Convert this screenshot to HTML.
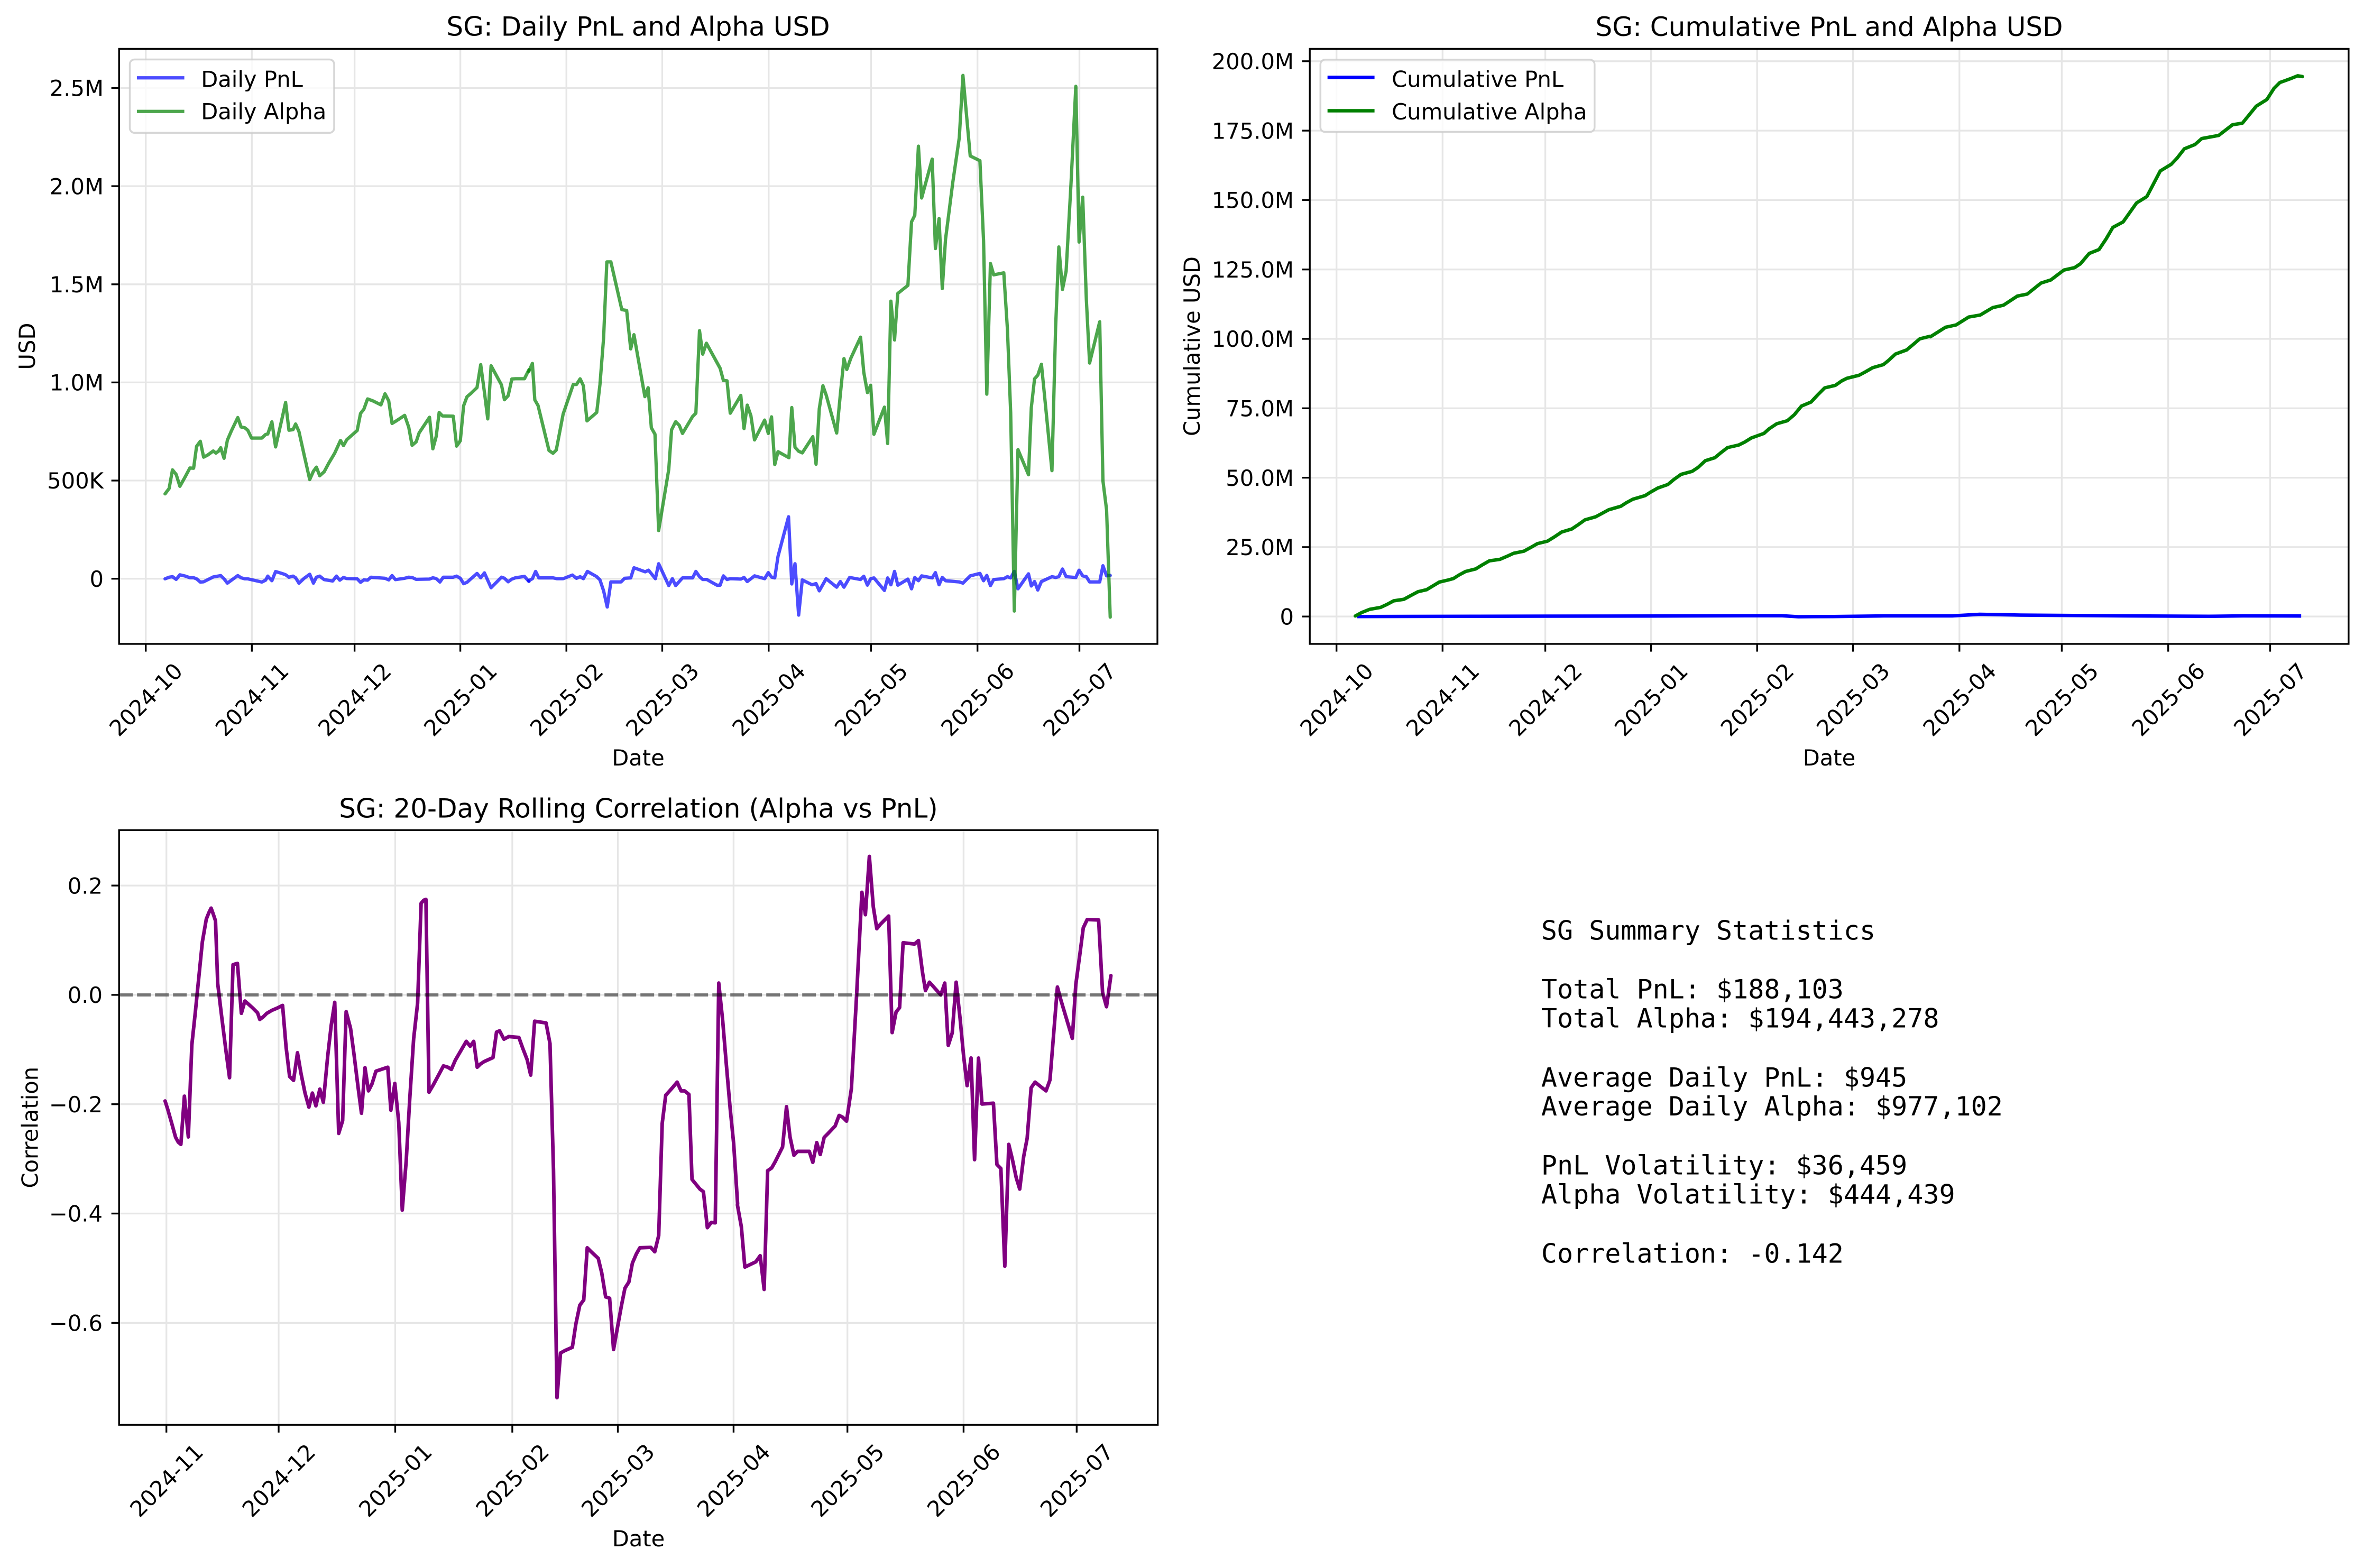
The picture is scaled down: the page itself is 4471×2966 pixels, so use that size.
<!DOCTYPE html>
<html><head><meta charset="utf-8"><style>
html,body{margin:0;padding:0;background:#fff;}
svg{display:block;}
text{font-family:"DejaVu Sans","Liberation Sans",sans-serif;fill:#000;}
.t{font-size:41.67px;}
.ti{font-size:50px;}
.mono{font-family:"DejaVu Sans Mono","Liberation Mono",monospace;font-size:50px;}
.g{stroke:#e6e6e6;stroke-width:3.3;fill:none;}
.tk{stroke:#000;stroke-width:3.33;}
.sp{fill:none;stroke:#000;stroke-width:3.33;}
</style></head><body>
<svg width="4471" height="2966" viewBox="0 0 4471 2966" xmlns="http://www.w3.org/2000/svg">
<rect width="4471" height="2966" fill="#fff"/>

<!-- ================= PANEL 1 ================= -->
<g class="g">
<line x1="275.7" y1="92.4" x2="275.7" y2="1218"/><line x1="476.3" y1="92.4" x2="476.3" y2="1218"/><line x1="670.6" y1="92.4" x2="670.6" y2="1218"/><line x1="870.6" y1="92.4" x2="870.6" y2="1218"/><line x1="1071.2" y1="92.4" x2="1071.2" y2="1218"/><line x1="1252.5" y1="92.4" x2="1252.5" y2="1218"/><line x1="1453.8" y1="92.4" x2="1453.8" y2="1218"/><line x1="1647.4" y1="92.4" x2="1647.4" y2="1218"/><line x1="1848.7" y1="92.4" x2="1848.7" y2="1218"/><line x1="2041.5" y1="92.4" x2="2041.5" y2="1218"/>
<line x1="225.2" y1="1094.7" x2="2189" y2="1094.7"/><line x1="225.2" y1="909.0" x2="2189" y2="909.0"/><line x1="225.2" y1="723.4" x2="2189" y2="723.4"/><line x1="225.2" y1="537.8" x2="2189" y2="537.8"/><line x1="225.2" y1="352.1" x2="2189" y2="352.1"/><line x1="225.2" y1="166.5" x2="2189" y2="166.5"/>
</g>
<!-- Daily PnL -->
<g fill="none" stroke="#0000ff" stroke-opacity="0.7" stroke-width="6.25" stroke-linejoin="round" stroke-linecap="round">
<polyline vector-effect="non-scaling-stroke" transform="translate(0,650) scale(0.70151,0.5102)" points="445,872 456,866 465,864 475,874 485,857 500,862 512,868 522,868 530,872 540,884 549,883 575,865 595,860 604,872 613,888 641,860 650,868 660,872 668,872 706,884 716,877 722,862 733,879 743,845 760,852 770,857 779,866 790,862 797,868 806,888 820,870 835,855 845,888 853,866 862,862 874,875 897,880 907,862 916,877 926,867 935,871 963,872 972,885 981,876 991,877 1000,866 1038,870 1048,876 1057,860 1066,875 1091,870 1102,866 1111,867 1122,874 1158,873 1167,868 1176,871 1186,884 1195,866 1222,866 1231,862 1241,870 1250,890 1259,885 1286,852 1296,868 1306,850 1324,905 1352,866 1360,870 1370,883 1380,873 1390,868 1414,863 1426,882"/>
<polyline vector-effect="non-scaling-stroke" transform="translate(1000,50) scale(0.76531)" points="0,1370 9,1365 17,1347 25,1363 60,1363 70,1365 85,1365 108,1356 118,1364 127,1360 135,1365 145,1347 168,1360 176,1368 185,1395 194,1435 203,1373 228,1373 237,1364 252,1363 260,1338 288,1348 296,1344 313,1365 321,1328 346,1382 355,1365 363,1382 380,1363 405,1363 413,1347 422,1360 430,1367 440,1367 465,1381 473,1381 481,1358 490,1367 498,1365 524,1366 532,1362 540,1372 558,1358 583,1365 592,1350 600,1361 608,1363 616,1310 642,1212 650,1378 658,1328 667,1455 676,1368 700,1380 710,1377 718,1395 735,1365 761,1386 770,1372 779,1386 793,1362 820,1367 828,1359 837,1381 845,1365 853,1363 879,1394 887,1363 895,1380 904,1347 912,1381 937,1366 946,1390 954,1362 963,1370 971,1358 997,1363 1005,1350 1014,1380 1022,1362 1030,1370 1064,1373 1073,1376 1091,1358 1115,1352 1124,1370 1132,1357 1141,1382 1149,1367 1174,1365 1183,1360 1191,1363 1200,1347 1209,1390 1235,1353 1242,1383 1250,1372 1258,1393 1267,1372 1293,1360 1302,1362 1310,1360 1319,1341 1328,1360 1352,1362 1360,1344 1369,1358 1378,1360 1386,1373 1411,1373 1419,1333 1428,1358 1437,1357"/>
</g>
<!-- Daily Alpha -->
<g fill="none" stroke="#008000" stroke-opacity="0.7" stroke-width="6.25" stroke-linejoin="round" stroke-linecap="round">
<polyline vector-effect="non-scaling-stroke" transform="translate(0,650) scale(0.70151,0.5102)" points="445,557 456,537 465,468 475,485 485,529 500,492 512,461 522,462 530,381 540,362 549,421 560,413 575,398 582,406 589,399 595,386 604,425 613,358 624,323 641,274 650,309 660,312 668,321 678,350 706,350 716,337 722,335 733,290 743,383 760,280 770,218 779,321 790,319 797,298 806,326 820,413 835,504 845,473 853,458 862,490 874,475 886,444 902,407 918,359 926,378 935,356 963,322 972,259 981,243 991,205 1005,212 1027,227 1038,186 1048,212 1057,296 1070,285 1091,266 1102,310 1111,377 1122,364 1130,331 1158,273 1167,390 1176,344 1184,255 1193,268 1222,269 1231,380 1241,360 1250,230 1259,197 1270,184 1286,163 1296,78 1306,180 1315,279 1324,82 1337,115 1352,153 1360,208 1370,193 1380,131 1390,130 1414,130 1426,97"/>
<polyline vector-effect="non-scaling-stroke" transform="translate(1000,50) scale(0.76531)" points="0,853 9,833 15,923 23,937 50,1048 60,1055 68,1047 85,958 110,885 118,885 127,871 135,888 144,975 168,954 176,885 185,770 193,582 203,582 230,700 242,702 252,797 260,762 287,915 295,893 303,992 312,1008 321,1246 346,1095 353,997 363,977 372,986 380,1006 405,964 413,956 422,752 430,810 439,783 473,845 481,875 490,876 498,956 524,912 532,994 540,936 549,962 558,1022 583,973 592,1006 600,965 608,1083 616,1051 643,1066 650,942 658,1040 667,1050 676,1054 702,1014 710,1082 718,945 727,888 735,911 761,1005 770,910 779,821 786,848 796,820 820,768 828,855 837,905 845,887 853,1008 879,941 887,1031 895,679 904,775 912,660 937,640 946,483 954,467 963,296 971,424 997,328 1005,549 1014,475 1022,648 1030,526 1048,385 1064,275 1073,121 1091,320 1115,332 1124,530 1132,909 1141,586 1149,614 1174,609 1183,749 1191,955 1200,1445 1209,1046 1235,1108 1242,942 1250,871 1258,862 1267,835 1293,1098 1302,745 1310,545 1319,650 1328,605 1340,390 1352,148 1360,533 1369,422 1378,675 1386,832 1411,730 1419,1123 1428,1195 1437,1460"/>
</g>
<rect class="sp" x="225.2" y="92.4" width="1963.8" height="1125.6"/>
<g class="tk">
<line x1="210.6" y1="1094.7" x2="225.2" y2="1094.7"/><line x1="210.6" y1="909.0" x2="225.2" y2="909.0"/><line x1="210.6" y1="723.4" x2="225.2" y2="723.4"/><line x1="210.6" y1="537.8" x2="225.2" y2="537.8"/><line x1="210.6" y1="352.1" x2="225.2" y2="352.1"/><line x1="210.6" y1="166.5" x2="225.2" y2="166.5"/>
<line x1="275.7" y1="1218" x2="275.7" y2="1232.6"/><line x1="476.3" y1="1218" x2="476.3" y2="1232.6"/><line x1="670.6" y1="1218" x2="670.6" y2="1232.6"/><line x1="870.6" y1="1218" x2="870.6" y2="1232.6"/><line x1="1071.2" y1="1218" x2="1071.2" y2="1232.6"/><line x1="1252.5" y1="1218" x2="1252.5" y2="1232.6"/><line x1="1453.8" y1="1218" x2="1453.8" y2="1232.6"/><line x1="1647.4" y1="1218" x2="1647.4" y2="1232.6"/><line x1="1848.7" y1="1218" x2="1848.7" y2="1232.6"/><line x1="2041.5" y1="1218" x2="2041.5" y2="1232.6"/>
</g>
<g class="t" text-anchor="end">
<text x="196" y="1110">0</text><text x="196" y="924.2">500K</text><text x="196" y="738.6">1.0M</text><text x="196" y="553">1.5M</text><text x="196" y="367.3">2.0M</text><text x="196" y="181.7">2.5M</text>
</g>
<g class="t" text-anchor="middle">
<text transform="translate(275.7,1323) rotate(-45)" y="15">2024-10</text>
<text transform="translate(476.3,1323) rotate(-45)" y="15">2024-11</text>
<text transform="translate(670.6,1323) rotate(-45)" y="15">2024-12</text>
<text transform="translate(870.6,1323) rotate(-45)" y="15">2025-01</text>
<text transform="translate(1071.2,1323) rotate(-45)" y="15">2025-02</text>
<text transform="translate(1252.5,1323) rotate(-45)" y="15">2025-03</text>
<text transform="translate(1453.8,1323) rotate(-45)" y="15">2025-04</text>
<text transform="translate(1647.4,1323) rotate(-45)" y="15">2025-05</text>
<text transform="translate(1848.7,1323) rotate(-45)" y="15">2025-06</text>
<text transform="translate(2041.5,1323) rotate(-45)" y="15">2025-07</text>
<text x="1207" y="1448">Date</text>
<text transform="translate(66,655) rotate(-90)">USD</text>
</g>
<text class="ti" x="1207" y="67.5" text-anchor="middle">SG: Daily PnL and Alpha USD</text>
<!-- legend 1 -->
<rect x="245.5" y="112.5" width="386.5" height="138.8" rx="9" fill="#fff" fill-opacity="0.8" stroke="#cccccc" stroke-opacity="0.8" stroke-width="3.5"/>
<line x1="258.9" y1="147.3" x2="348.6" y2="147.3" stroke="#0000ff" stroke-opacity="0.7" stroke-width="6.25"/>
<line x1="258.9" y1="210.7" x2="348.6" y2="210.7" stroke="#008000" stroke-opacity="0.7" stroke-width="6.25"/>
<text class="t" x="380.2" y="164.3">Daily PnL</text>
<text class="t" x="380.2" y="225.4">Daily Alpha</text>

<!-- ================= PANEL 2 ================= -->
<g class="g">
<line x1="2527.7" y1="92.4" x2="2527.7" y2="1218"/><line x1="2728.3" y1="92.4" x2="2728.3" y2="1218"/><line x1="2922.6" y1="92.4" x2="2922.6" y2="1218"/><line x1="3122.6" y1="92.4" x2="3122.6" y2="1218"/><line x1="3323.2" y1="92.4" x2="3323.2" y2="1218"/><line x1="3504.5" y1="92.4" x2="3504.5" y2="1218"/><line x1="3705.8" y1="92.4" x2="3705.8" y2="1218"/><line x1="3899.4" y1="92.4" x2="3899.4" y2="1218"/><line x1="4100.7" y1="92.4" x2="4100.7" y2="1218"/><line x1="4293.5" y1="92.4" x2="4293.5" y2="1218"/>
<line x1="2477.2" y1="1166.2" x2="4441.9" y2="1166.2"/><line x1="2477.2" y1="1034.9" x2="4441.9" y2="1034.9"/><line x1="2477.2" y1="903.6" x2="4441.9" y2="903.6"/><line x1="2477.2" y1="772.3" x2="4441.9" y2="772.3"/><line x1="2477.2" y1="641.0" x2="4441.9" y2="641.0"/><line x1="2477.2" y1="509.7" x2="4441.9" y2="509.7"/><line x1="2477.2" y1="378.4" x2="4441.9" y2="378.4"/><line x1="2477.2" y1="247.1" x2="4441.9" y2="247.1"/><line x1="2477.2" y1="115.8" x2="4441.9" y2="115.8"/>
</g>
<polyline fill="none" stroke="#0000ff" stroke-width="6.5" stroke-linejoin="round" points="2566.5,1166.2 2786.5,1165.7 3142.4,1165.2 3304.1,1164.7 3368.8,1164.6 3401.2,1166.6 3465.9,1166.2 3562.9,1165.0 3692.3,1165.0 3744.1,1162.0 3821.7,1163.5 4015.8,1165.0 4177.6,1165.8 4242.3,1165.0 4352.2,1165.2"/>
<g fill="none" stroke="#008000" stroke-width="6.5" stroke-linejoin="round" stroke-linecap="round">
<polyline vector-effect="non-scaling-stroke" transform="translate(2150,0) scale(0.95663)" points="432,1218 445,1211 460,1205 482,1201 495,1195 508,1188 528,1185 541,1178 556,1170 573,1166 583,1160 598,1151 615,1147 626,1144 637,1137 650,1130 670,1125 683,1117 697,1109 718,1106 732,1100 745,1094 765,1090 778,1083 792,1075 812,1070 825,1062 840,1052 860,1046 872,1038 886,1028 907,1022 920,1015 933,1008 957,1001 968,994 981,987 1005,980 1016,973 1030,965 1050,958 1062,948 1076,938 1098,932 1110,924 1124,911 1143,905 1155,895 1168,885 1190,880 1202,874 1215,866 1240,857 1250,848 1265,838 1286,832 1300,820 1314,803 1333,795 1346,781 1360,767 1381,762 1394,753 1404,748 1428,742 1441,735 1455,727 1476,721 1487,712 1500,700 1522,692 1534,682 1548,670 1568,665"/>
<polyline vector-effect="non-scaling-stroke" transform="translate(3300,0) scale(0.74681)" points="470,853 508,829 535,823 567,803 596,798 628,779 655,773 690,750 715,745 750,717 775,709 808,684 835,678 850,668 872,642 897,632 915,605 932,576 958,562 992,514 1018,498 1052,433 1080,416 1095,400 1113,377 1140,366 1157,351 1200,343 1235,316 1260,312 1295,269 1322,252 1340,224 1355,209 1380,200 1400,192 1412,194"/>
</g>
<rect class="sp" x="2477.2" y="92.4" width="1964.7" height="1125.6"/>
<g class="tk">
<line x1="2462.6" y1="1166.2" x2="2477.2" y2="1166.2"/><line x1="2462.6" y1="1034.9" x2="2477.2" y2="1034.9"/><line x1="2462.6" y1="903.6" x2="2477.2" y2="903.6"/><line x1="2462.6" y1="772.3" x2="2477.2" y2="772.3"/><line x1="2462.6" y1="641.0" x2="2477.2" y2="641.0"/><line x1="2462.6" y1="509.7" x2="2477.2" y2="509.7"/><line x1="2462.6" y1="378.4" x2="2477.2" y2="378.4"/><line x1="2462.6" y1="247.1" x2="2477.2" y2="247.1"/><line x1="2462.6" y1="115.8" x2="2477.2" y2="115.8"/>
<line x1="2527.7" y1="1218" x2="2527.7" y2="1232.6"/><line x1="2728.3" y1="1218" x2="2728.3" y2="1232.6"/><line x1="2922.6" y1="1218" x2="2922.6" y2="1232.6"/><line x1="3122.6" y1="1218" x2="3122.6" y2="1232.6"/><line x1="3323.2" y1="1218" x2="3323.2" y2="1232.6"/><line x1="3504.5" y1="1218" x2="3504.5" y2="1232.6"/><line x1="3705.8" y1="1218" x2="3705.8" y2="1232.6"/><line x1="3899.4" y1="1218" x2="3899.4" y2="1232.6"/><line x1="4100.7" y1="1218" x2="4100.7" y2="1232.6"/><line x1="4293.5" y1="1218" x2="4293.5" y2="1232.6"/>
</g>
<g class="t" text-anchor="end">
<text x="2447" y="1181.4">0</text><text x="2447" y="1050.1">25.0M</text><text x="2447" y="918.8">50.0M</text><text x="2447" y="787.5">75.0M</text><text x="2447" y="656.2">100.0M</text><text x="2447" y="524.9">125.0M</text><text x="2447" y="393.6">150.0M</text><text x="2447" y="262.3">175.0M</text><text x="2447" y="131">200.0M</text>
</g>
<g class="t" text-anchor="middle">
<text transform="translate(2527.7,1323) rotate(-45)" y="15">2024-10</text>
<text transform="translate(2728.3,1323) rotate(-45)" y="15">2024-11</text>
<text transform="translate(2922.6,1323) rotate(-45)" y="15">2024-12</text>
<text transform="translate(3122.6,1323) rotate(-45)" y="15">2025-01</text>
<text transform="translate(3323.2,1323) rotate(-45)" y="15">2025-02</text>
<text transform="translate(3504.5,1323) rotate(-45)" y="15">2025-03</text>
<text transform="translate(3705.8,1323) rotate(-45)" y="15">2025-04</text>
<text transform="translate(3899.4,1323) rotate(-45)" y="15">2025-05</text>
<text transform="translate(4100.7,1323) rotate(-45)" y="15">2025-06</text>
<text transform="translate(4293.5,1323) rotate(-45)" y="15">2025-07</text>
<text x="3459.5" y="1448">Date</text>
<text transform="translate(2269,655) rotate(-90)">Cumulative USD</text>
</g>
<text class="ti" x="3459.5" y="68" text-anchor="middle">SG: Cumulative PnL and Alpha USD</text>
<!-- legend 2 -->
<rect x="2497.3" y="112.9" width="518.5" height="136.8" rx="9" fill="#fff" fill-opacity="0.8" stroke="#cccccc" stroke-opacity="0.8" stroke-width="3.5"/>
<line x1="2510.7" y1="146.4" x2="2599.6" y2="146.4" stroke="#0000ff" stroke-width="6.5"/>
<line x1="2510.7" y1="209.5" x2="2599.6" y2="209.5" stroke="#008000" stroke-width="6.5"/>
<text class="t" x="2632.1" y="164.5">Cumulative PnL</text>
<text class="t" x="2632.1" y="225.8">Cumulative Alpha</text>

<!-- ================= PANEL 3 ================= -->
<g class="g">
<line x1="314.7" y1="1570.2" x2="314.7" y2="2695.2"/><line x1="527" y1="1570.2" x2="527" y2="2695.2"/><line x1="747.5" y1="1570.2" x2="747.5" y2="2695.2"/><line x1="968.9" y1="1570.2" x2="968.9" y2="2695.2"/><line x1="1168.5" y1="1570.2" x2="1168.5" y2="2695.2"/><line x1="1387.4" y1="1570.2" x2="1387.4" y2="2695.2"/><line x1="1602.7" y1="1570.2" x2="1602.7" y2="2695.2"/><line x1="1822.4" y1="1570.2" x2="1822.4" y2="2695.2"/><line x1="2036.3" y1="1570.2" x2="2036.3" y2="2695.2"/>
<line x1="225.2" y1="1675.1" x2="2189.7" y2="1675.1"/><line x1="225.2" y1="1881.9" x2="2189.7" y2="1881.9"/><line x1="225.2" y1="2088.7" x2="2189.7" y2="2088.7"/><line x1="225.2" y1="2295.5" x2="2189.7" y2="2295.5"/><line x1="225.2" y1="2502.3" x2="2189.7" y2="2502.3"/>
</g>
<g fill="none" stroke="#800080" stroke-width="6.8" stroke-linejoin="round" stroke-linecap="round">
<polyline vector-effect="non-scaling-stroke" transform="translate(100,1450) scale(0.82908)" points="256,763 262,782 270,810 280,846 286,857 292,862 300,752 309,845 317,635 325,560 333,480 341,400 350,348 356,333 361,323 366,337 371,352 376,495 385,570 395,650 403,710 411,452 421,449 430,563 438,535 446,542 455,550 462,557 467,562 472,577 480,571 488,563 500,556 512,551 524,545 532,640 540,707 549,716 558,653 566,700 575,744 584,777 592,745 600,774 609,736 617,766 627,660 635,590 643,538 652,837 661,808 669,559 679,597 687,657 696,730 704,791 712,687 720,740 728,724 737,695 764,686 771,784 780,723 789,812 797,1012 806,900 814,760 823,621 832,540 840,312 846,305 851,303 858,743 868,726 876,711 891,683 901,686 909,691 918,670 943,627 952,638 960,627 968,686 975,679 984,673 1004,664 1012,606 1019,603 1029,622 1040,616 1063,618 1072,643 1082,669 1090,704 1099,581 1125,585 1134,632 1142,920 1150,1440 1158,1338 1167,1333 1185,1325 1193,1272 1202,1229 1211,1217 1219,1098 1228,1107 1244,1122 1252,1155 1261,1210 1270,1213 1279,1330 1287,1285 1297,1230 1305,1190 1314,1176 1322,1133 1331,1112 1339,1098 1364,1097 1373,1107 1382,1070 1390,814 1398,750 1406,741 1414,732 1424,720 1433,740 1441,740 1451,748 1458,942 1467,953 1476,964 1484,970 1493,1052 1502,1040 1511,1041 1519,494 1528,580 1537,688 1545,780 1553,860 1562,998"/>
<polyline vector-effect="non-scaling-stroke" transform="translate(1000,1450) scale(0.82908)" points="476,1000 485,1050 493,1142 518,1130 528,1116 537,1193 545,922 554,916 562,902 579,868 588,776 596,845 605,887 613,878 640,878 648,903 657,858 665,885 674,846 682,838 699,820 708,796 716,800 725,809 736,735 748,520 760,287 768,338 777,205 786,320 794,370 802,360 821,341 829,607 838,560 846,550 854,402 880,405 889,397 898,468 905,511 914,492 940,521 949,494 957,636 966,608 975,492 984,575 992,660 1000,728 1009,665 1017,897 1026,665 1034,770 1060,768 1068,908 1077,917 1086,1140 1095,862 1103,895 1112,938 1120,964 1129,890 1137,848 1146,733 1155,720 1180,740 1189,715 1206,503 1214,533 1240,620 1248,497 1257,430 1265,368 1274,349 1300,350 1309,515 1318,548 1328,477"/>
</g>
<line x1="225.2" y1="1881.9" x2="2189.7" y2="1881.9" stroke="#000" stroke-opacity="0.5" stroke-width="6.25" stroke-dasharray="26 8"/>
<rect class="sp" x="225.2" y="1570.2" width="1964.5" height="1125"/>
<g class="tk">
<line x1="210.6" y1="1675.1" x2="225.2" y2="1675.1"/><line x1="210.6" y1="1881.9" x2="225.2" y2="1881.9"/><line x1="210.6" y1="2088.7" x2="225.2" y2="2088.7"/><line x1="210.6" y1="2295.5" x2="225.2" y2="2295.5"/><line x1="210.6" y1="2502.3" x2="225.2" y2="2502.3"/>
<line x1="314.7" y1="2695.2" x2="314.7" y2="2709.8"/><line x1="527" y1="2695.2" x2="527" y2="2709.8"/><line x1="747.5" y1="2695.2" x2="747.5" y2="2709.8"/><line x1="968.9" y1="2695.2" x2="968.9" y2="2709.8"/><line x1="1168.5" y1="2695.2" x2="1168.5" y2="2709.8"/><line x1="1387.4" y1="2695.2" x2="1387.4" y2="2709.8"/><line x1="1602.7" y1="2695.2" x2="1602.7" y2="2709.8"/><line x1="1822.4" y1="2695.2" x2="1822.4" y2="2709.8"/><line x1="2036.3" y1="2695.2" x2="2036.3" y2="2709.8"/>
</g>
<g class="t" text-anchor="end">
<text x="194" y="1690.3">0.2</text><text x="194" y="1897.1">0.0</text><text x="194" y="2103.9">−0.2</text><text x="194" y="2310.7">−0.4</text><text x="194" y="2517.5">−0.6</text>
</g>
<g class="t" text-anchor="middle">
<text transform="translate(314.7,2800) rotate(-45)" y="15">2024-11</text>
<text transform="translate(527,2800) rotate(-45)" y="15">2024-12</text>
<text transform="translate(747.5,2800) rotate(-45)" y="15">2025-01</text>
<text transform="translate(968.9,2800) rotate(-45)" y="15">2025-02</text>
<text transform="translate(1168.5,2800) rotate(-45)" y="15">2025-03</text>
<text transform="translate(1387.4,2800) rotate(-45)" y="15">2025-04</text>
<text transform="translate(1602.7,2800) rotate(-45)" y="15">2025-05</text>
<text transform="translate(1822.4,2800) rotate(-45)" y="15">2025-06</text>
<text transform="translate(2036.3,2800) rotate(-45)" y="15">2025-07</text>
<text x="1207.5" y="2925">Date</text>
<text transform="translate(71.5,2132.7) rotate(-90)">Correlation</text>
</g>
<text class="ti" x="1207.5" y="1546.5" text-anchor="middle">SG: 20-Day Rolling Correlation (Alpha vs PnL)</text>

<!-- ================= PANEL 4 (text) ================= -->
<g>
<text class="mono" x="2914.9" y="1777.4">SG Summary Statistics</text>
<text class="mono" x="2914.9" y="1888.4">Total PnL: $188,103</text>
<text class="mono" x="2914.9" y="1943.4">Total Alpha: $194,443,278</text>
<text class="mono" x="2914.9" y="2055.3">Average Daily PnL: $945</text>
<text class="mono" x="2914.9" y="2110.2">Average Daily Alpha: $977,102</text>
<text class="mono" x="2914.9" y="2221.4">PnL Volatility: $36,459</text>
<text class="mono" x="2914.9" y="2276.7">Alpha Volatility: $444,439</text>
<text class="mono" x="2914.9" y="2388.3">Correlation: -0.142</text>
</g>
</svg>
</body></html>
